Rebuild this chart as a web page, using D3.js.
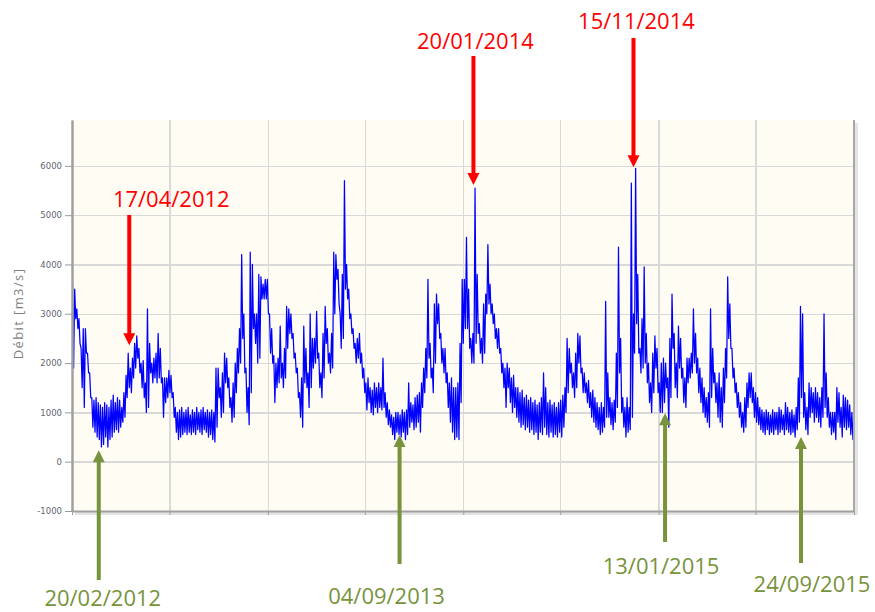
<!DOCTYPE html>
<meta charset="utf-8">
<style>
body { margin: 0; background: #fff; }
.grid line { stroke: #d9d9d9; stroke-width: 1.4px; shape-rendering: crispEdges; }
.grid path { display: none; }
.y.axis text { font: 8.5px "DejaVu Sans", sans-serif; fill: #5f6672; }
.y.axis line { stroke: #9a9a9a; }
.axis path { stroke: #a0a0a0; }
.x.axis line { stroke: #a0a0a0; }
.flow { fill: none; stroke: #0000ff; stroke-width: 1.25px; stroke-linejoin: round; }
.ann { font-family: "Open Sans", sans-serif; font-size: 22px; text-anchor: middle; }
</style>
<body>
<script src="https://d3js.org/d3.v7.min.js"></script>
<script>

// river flow in 4-day windows from 1 Jan 2012:
// highest and lowest daily value seen in each window
var startDate = "01/01/2012",
    endDate = "01/01/2016",
    stepDays = 4;

var flowHi = [
  3600,3500,3100,2900,2300,2700,2700,2200,1800,1300, 1250,1300,1200,1150,1100,1200,1150,1100,1250,1350,
  1200,1300,1250,1100,1400,1750,2200,1900,2100,2400, 2550,2300,2000,2050,1600,3100,2400,2000,2100,2200,
  2600,2300,1700,1700,1700,1850,1750,1400,1100,1000, 1050,1100,1000,1050,1100, 950,1050,1000,1100,1000,
  1050,1100,1000,1050,1000,1050,1000,1900,1900,1500, 1800,2200,2100,1700,1300,1600,2000,2300,2700,4200,
  3000,1900,1500,4250,4000,3000,3000,3800,3750,3600, 3700,3700,3000,2700,2150,2000,2100,2750,2000,2300,
  3150,3100,3000,2600,2200,1900,1400,1700,2750,2300, 1800,3000,2500,2500,3050,2200,1800,2600,3150,2700,
  2200,2600,4250,4200,3900,3000,3800,5700,4000,3500, 3000,2700,2400,2500,2600,2200,1900,1600,1700,1500,
  1450,1600,1500,1600,1500,2100,1400,1200,1050, 950,  900,1000,1000, 950,1050,1000,1050,1600,1200,1150,
  1300,1350,1400,1600,1900,2300,3700,2400,1900,3200, 3400,3200,2600,2300,2300,1800,1600,1700,1500,1500,
  1600,2400,3700,3700,4550,3500,2500,2600,5550,3800, 2800,2500,3200,3400,4400,3600,3200,3000,2700,2700,
  2300,2000,1900,2000,1900,1700,1750,1500,1500,1400, 1450,1300,1350,1250,1300,1200,1250,1150,1200,1300,
  1800,1500,1200,1250,1150,1200,1100,1200,1250,1350, 1500,2500,2300,2000,1800,2200,2600,2550,1900,1800,
  1600,1650,1400,1450,1300,1200,1100,1200,1100,3250, 1800,1300,1200,1250,2200,4350,2500,1300,1100,1300,
  1100,5650,3000,5950,3800,2300,2900,3950,2600,2000, 1600,2200,2550,2300,1600,2000,2100,2000,1700,2500,
  3400,2600,2000,2750,2500,1900,1700,2100,2100,2200, 3100,2600,2100,1900,1700,1500,1300,1400,3100,2300,
  1800,1600,1800,1500,1900,2300,3750,3200,2300,1900, 1600,1400,1200,1000,1300,1600,1800,1800,1500,1400,
  1300,1100,1050,1000,1050,1000, 950,1050,1000,1000, 1100,1050, 950,1200,1100,1000,1050, 950,1100,1700,
  3150,3000,1400,1100,1600,1500,1400,1500,1400,1300, 1500,3000,1800,1300,1000,1000,1000,1500,1400,1100,
  1350,1300,1250,1150,1000,1000
];

var flowLo = [
  1900,2900,2700,2400,1500,1100,2200,1800,1300, 700,  600, 500, 450, 300, 350, 500, 300, 450, 500, 600,
   650, 600, 700, 800, 900,1300,1500,1400,1700,1900, 2100,1800,1500,1300,1000,1100,1800,1600,1700,1600,
  1700,1600, 900,1200,1300,1400,1300, 900, 600, 450,  500, 550, 600, 550, 600, 550, 600, 550, 650, 600,
   550, 650, 600, 500, 550, 450, 400, 700,1300, 900, 1000,1600,1500,1100, 800, 900,1400,1800,2000,2500,
  1800,1000, 750,1400,2700,2400,2000,2100,3300,3300, 3300,3000,2200,2000,1200,1500,1600,1700,1500,1700,
  2300,2600,2500,2100,1800,1300, 900, 700,1600,1500, 1100,1500,1900,2000,2100,1500,1300,1700,2400,2000,
  1800,1900,3000,3700,3200,2300,2500,3500,3300,2900, 2600,2300,2000,2100,2000,1700,1400,1050,1200,1000,
   950,1100,1000,1100,1050,1100, 900, 750, 700, 550,  450, 600, 550, 500, 600, 450, 550, 700, 800, 650,
   700, 800, 600,1100,1400,1700,2100,1700,1400,2000, 2800,2500,2000,1800,1600,1100, 800, 600, 450, 500,
   450,1200,2400,2700,2700,2300,2000,2000,2400,2600, 2200,2000,2200,3000,3200,3000,2800,2500,2300,2200,
  1800,1500,1100,1500,1200,1000,1100, 900, 800, 700,  750, 650, 700, 600, 650, 550, 600, 450, 600, 550,
   700, 550, 500, 600, 500, 550, 500, 600, 500, 700, 1000,1400,1800,1500,1300,1500,2000,1800,1400,1400,
  1200,1100, 900, 800, 700, 650, 550, 600, 700, 900,  900, 750, 650, 800,1100,1800,1000, 700, 500, 600,
   650, 900,2200,2800,2200,1800,1900,2000,1600,1200, 1000,1400,1900,1400,1000,1000,1200,1500, 700,1300,
  2300,1500,1300,1900,1700,1200,1100,1600,1700,1800, 2000,1800,1400,1200,1000, 900, 800, 700,1300,1600,
  1200, 900, 800, 700,1200,1700,2500,2300,1700,1400, 1100, 900, 700, 600, 700,1100,1300,1200, 900, 800,
   750, 650, 600, 550, 650, 550, 600, 550, 650, 550,  600, 650, 550, 650, 600, 550, 600, 500, 650, 800,
  1300, 900, 650, 550, 900,1000, 800, 900, 800, 700,  900,1100, 900, 700, 550, 600, 450, 800, 700, 500,
   700, 650, 700, 550, 450, 600
];

var yTicks = [-1000, 0, 1000, 2000, 3000, 4000, 5000, 6000];
var yMax = 6930;
var yTitle = "Débit [m3/s]";

// annotated days: the label is the date, tip is the flow value the arrow points at
var peakLabels = ["17/04/2012", "20/01/2014", "15/11/2014"],
    peakTips   = [2360, 5610, 5970];
var lowLabels  = ["20/02/2012", "04/09/2013", "13/01/2015", "24/09/2015"],
    lowTips    = [230, 540, 980, 500];

var margin = {top: 120, right: 21, bottom: 101, left: 72},
    width = 875 - margin.left - margin.right,
    height = 612 - margin.top - margin.bottom;

var parseDate = d3.timeParse("%d/%m/%Y");
var t0 = parseDate(startDate);

// each window gives two points: its high, then its low
var data = [];
flowHi.forEach(function(v, i) {
  data.push({date: d3.timeHour.offset(t0, (i * stepDays + 1) * 24), value: v});
  data.push({date: d3.timeHour.offset(t0, (i * stepDays + 3) * 24), value: flowLo[i]});
});

var x = d3.scaleTime().domain([t0, parseDate(endDate)]).range([0, width]);
var y = d3.scaleLinear().domain([-1000, yMax]).range([height, 0]);

var svg = d3.select("body").append("svg")
    .attr("width", 875)
    .attr("height", 612)
  .append("g")
    .attr("transform", "translate(" + margin.left + "," + margin.top + ")");

// drop shadow + background
svg.append("rect")
    .attr("x", 3).attr("y", 3)
    .attr("width", width + 1).attr("height", height + 1)
    .attr("fill", "#e4e4e4");
svg.append("rect")
    .attr("width", width).attr("height", height)
    .attr("fill", "#fffcf4");

// grid
svg.append("g")
    .attr("class", "grid")
    .call(d3.axisLeft(y).tickValues(yTicks.slice(1)).tickSize(-width).tickFormat(""));
svg.append("g")
    .attr("class", "grid")
    .attr("transform", "translate(0," + height + ")")
    .call(d3.axisBottom(x).ticks(d3.timeMonth.every(6)).tickSize(-height).tickFormat(""));

svg.append("clipPath").attr("id", "clip")
  .append("rect").attr("width", width).attr("height", height);

var valueline = d3.line()
    .x(function(d) { return x(d.date); })
    .y(function(d) { return y(d.value); });

svg.append("path")
    .datum(data)
    .attr("class", "flow")
    .attr("clip-path", "url(#clip)")
    .attr("d", valueline);

// axes
var yAxis = svg.append("g")
    .attr("class", "y axis")
    .call(d3.axisLeft(y).tickValues(yTicks).tickFormat(function(d) { return String(d); })
      .tickSize(7).tickSizeOuter(0).tickPadding(3));
yAxis.select(".domain").attr("stroke-width", 2.5);

var xAxis = svg.append("g")
    .attr("class", "x axis")
    .attr("transform", "translate(0," + height + ")")
    .call(d3.axisBottom(x).ticks(d3.timeMonth.every(6)).tickSize(4).tickSizeOuter(0).tickFormat(""));
xAxis.select(".domain").attr("stroke-width", 2);

svg.append("line")
    .attr("x1", width).attr("x2", width)
    .attr("y1", 0).attr("y2", height)
    .attr("stroke", "#a8a8a8")
    .attr("stroke-width", 2);

svg.append("text")
    .attr("transform", "rotate(-90)")
    .attr("x", -(height / 2) + 2)
    .attr("y", 18 - margin.left)
    .attr("dy", "0.35em")
    .style("text-anchor", "middle")
    .style("font", "13px 'Open Sans', sans-serif")
    .style("letter-spacing", "1.4px")
    .style("fill", "#808080")
    .text(yTitle);

// arrows: line end / text baseline in page px, text shift from arrow
var peakLayout = [
  {lineEnd: 215, textY: 207, dx: 42},
  {lineEnd: 56,  textY: 49,  dx: 2},
  {lineEnd: 38,  textY: 29,  dx: 3}
];
var lowLayout = [
  {lineEnd: 580, textY: 606, dx: 4},
  {lineEnd: 564, textY: 604, dx: -13},
  {lineEnd: 542, textY: 574, dx: -4},
  {lineEnd: 563, textY: 592, dx: 11}
];

var head = 12, shaft = 4;

function arrow(label, tip, lay, colour, down) {
  var ax = x(parseDate(label)),
      ty = y(tip),
      endY = lay.lineEnd - margin.top,
      s = down ? -1 : 1;
  var g = svg.append("g");
  g.append("line")
      .attr("x1", ax).attr("x2", ax)
      .attr("y1", endY).attr("y2", ty + s * (head - 1))
      .attr("stroke", colour).attr("stroke-width", shaft);
  g.append("path")
      .attr("d", "M" + (ax - head / 2) + "," + (ty + s * head) +
                 "L" + (ax + head / 2) + "," + (ty + s * head) +
                 "L" + ax + "," + ty + "Z")
      .attr("fill", colour);
  g.append("text")
      .attr("class", "ann")
      .attr("x", ax + lay.dx)
      .attr("y", lay.textY - margin.top)
      .attr("fill", colour)
      .text(label);
}

peakLabels.forEach(function(l, i) { arrow(l, peakTips[i], peakLayout[i], "#ff0000", true); });
lowLabels.forEach(function(l, i) { arrow(l, lowTips[i], lowLayout[i], "#77933c", false); });

</script>
</body>
